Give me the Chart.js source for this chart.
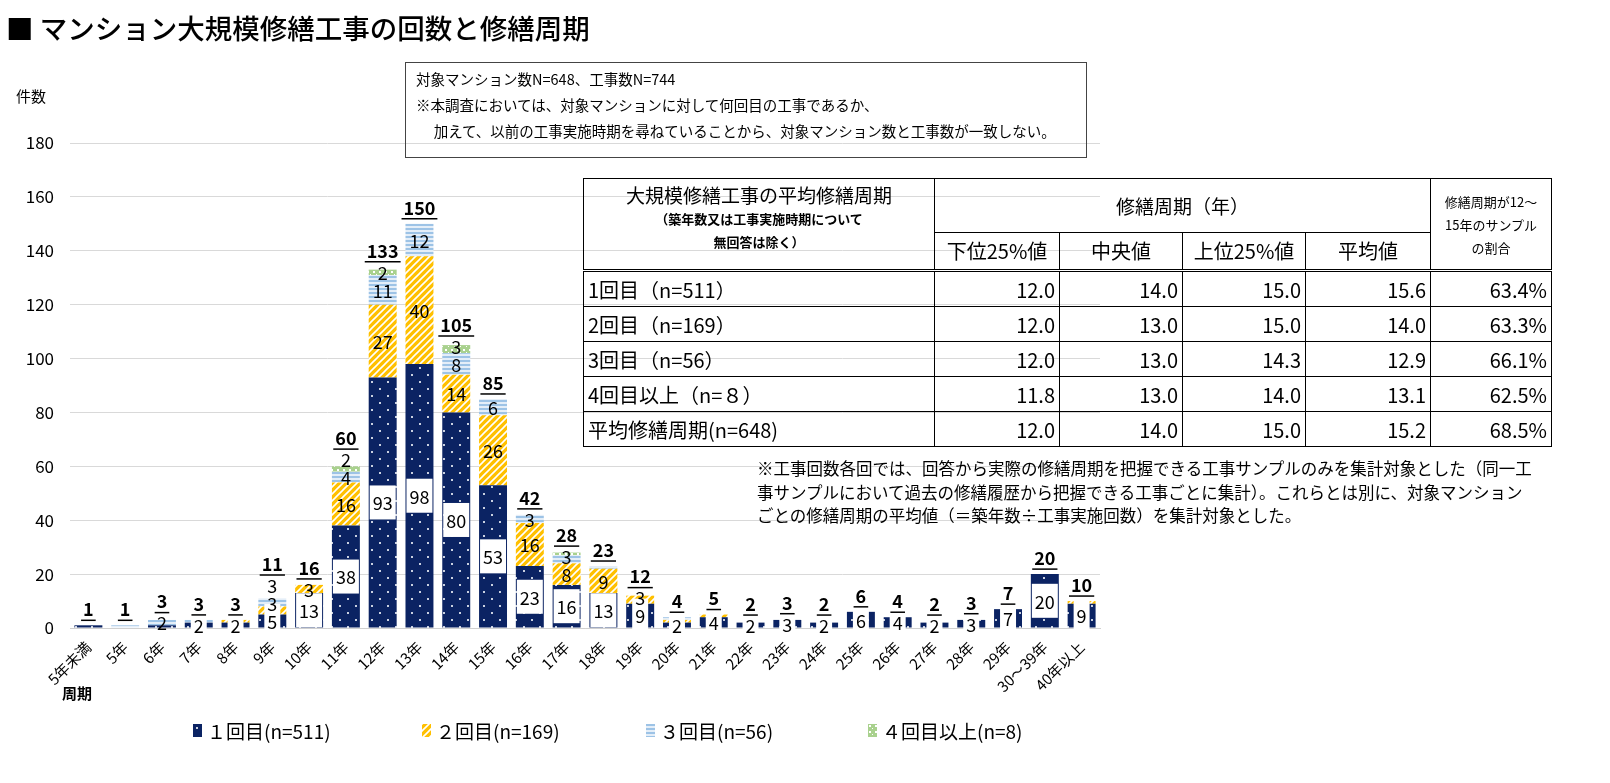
<!DOCTYPE html>
<html>
<head>
<meta charset="utf-8">
<script src="https://cdn.jsdelivr.net/npm/chart.js@4/dist/chart.umd.min.js"></script>
<style>
body { margin:0; background:#fff; font-family:"Noto Sans CJK JP", sans-serif; color:#000; }
#wrap { position:relative; width:1610px; height:783px; overflow:hidden; }
#c { position:absolute; left:0; top:0; }
.abs { position:absolute; white-space:nowrap; }
#title { left:6px; top:7px; font-size:27.5px; font-weight:500; }
#note { left:405px; top:62px; width:670px; height:91px; border:1px solid #444; padding-left:10px; font-size:14.5px; line-height:26px; padding-top:3px; }
#tbl { left:583px; top:178px; border-collapse:collapse; font-size:20px; }
#tbl td { border:1px solid #000; padding:0 4px; height:34px; }
#tbl .num { text-align:right; }
#tbl .hd td { text-align:center; }
#note2 { left:757px; top:457px; font-size:16.5px; line-height:23.5px; }
#legend { left:0; top:717px; font-size:19px; }
.lg { position:absolute; display:flex; align-items:center; }
.lg canvas { margin-right:5px; }
</style>
</head>
<body>
<div id="wrap">
<canvas id="c" width="1610" height="783"></canvas>
<div id="title" class="abs">■ マンション大規模修繕工事の回数と修繕周期</div>
<div id="note" class="abs"></div>
<div class="abs" style="left:16px;top:85px;font-size:15px;">件数</div>
<div class="abs" style="left:62px;top:682px;font-size:15px;font-weight:bold;">周期</div>
<table id="tbl" class="abs"></table>
<div id="note2" class="abs"></div>
<div id="legend" class="abs"></div>
</div>
<script>
// 修繕周期（x軸）
var categories = ['5年未満','5年','6年','7年','8年','9年','10年','11年','12年','13年','14年','15年','16年','17年','18年','19年','20年','21年','22年','23年','24年','25年','26年','27年','28年','29年','30～39年','40年以上'];
// 件数
var first  = [1,0,1,2,2,5,13,38,93,98,80,53,23,16,13,9,2,4,2,3,2,6,4,2,3,7,20,9];
var second = [0,0,0,0,1,3,3,16,27,40,14,26,16,8,9,3,1,1,0,0,0,0,0,0,0,0,0,1];
var third  = [0,1,2,1,0,3,0,4,11,12,8,6,3,3,1,0,1,0,0,0,0,0,0,0,0,0,0,0];
var fourth = [0,0,0,0,0,0,0,2,2,0,3,0,0,1,0,0,0,0,0,0,0,0,0,0,0,0,0,0];
var seriesNames = ['１回目(n=511)','２回目(n=169)','３回目(n=56)','４回目以上(n=8)'];
var yMax = 180, yStep = 20;

// 表
var rowNames = ['1回目（n=511）','2回目（n=169）','3回目（n=56）','4回目以上（n=８）','平均修繕周期(n=648)'];
var lower25 = ['12.0','12.0','12.0','11.8','12.0'];
var median  = ['14.0','13.0','13.0','13.0','14.0'];
var upper25 = ['15.0','15.0','14.3','14.0','15.0'];
var mean    = ['15.6','14.0','12.9','13.1','15.2'];
var share   = ['63.4%','63.3%','66.1%','62.5%','68.5%'];

var noteLines = ['対象マンション数N=648、工事数N=744',
  '※本調査においては、対象マンションに対して何回目の工事であるか、',
  '　 加えて、以前の工事実施時期を尋ねていることから、対象マンション数と工事数が一致しない。'];
var note2Lines = ['※工事回数各回では、回答から実際の修繕周期を把握できる工事サンプルのみを集計対象とした（同一工',
  '事サンプルにおいて過去の修繕履歴から把握できる工事ごとに集計）。これらとは別に、対象マンション',
  'ごとの修繕周期の平均値（＝築年数÷工事実施回数）を集計対象とした。'];

document.getElementById('note').innerHTML = noteLines.join('<br>');
document.getElementById('note2').innerHTML = note2Lines.join('<br>');

// table
var t = document.getElementById('tbl');
var h = '<tr class="hd"><td rowspan="2" style="width:342px;vertical-align:top;height:90px;line-height:24px;border-bottom:3px double #000">' +
  '<div style="font-size:19px;margin-top:4px">大規模修繕工事の平均修繕周期</div>' +
  '<div style="font-size:13px;font-weight:bold;line-height:23px">（築年数又は工事実施時期について<br>無回答は除く）</div></td>' +
  '<td colspan="4" style="height:52px;font-size:19px">修繕周期（年）</td>' +
  '<td rowspan="2" style="width:112px;font-size:13px;line-height:23px;border-bottom:3px double #000">修繕周期が12～<br>15年のサンプル<br>の割合</td></tr>' +
  '<tr class="hd">';
['下位25%値','中央値','上位25%値','平均値'].forEach(function(s, i){
  var w = [116,114,114,116][i];
  h += '<td style="width:' + w + 'px;height:36px;border-bottom:3px double #000">' + s + '</td>';
});
h += '</tr>';
for (var r = 0; r < rowNames.length; r++) {
  h += '<tr><td>' + rowNames[r] + '</td><td class="num">' + lower25[r] + '</td><td class="num">' + median[r] +
    '</td><td class="num">' + upper25[r] + '</td><td class="num">' + mean[r] + '</td><td class="num">' + share[r] + '</td></tr>';
}
t.innerHTML = h;

// patterns
function makePattern(kind) {
  var p = document.createElement('canvas');
  var g = p.getContext('2d');
  if (kind == 0) {
    p.width = 16; p.height = 14;
    g.fillStyle = '#0b2363'; g.fillRect(0,0,16,14);
    g.fillStyle = '#c9d0e0';
    g.fillRect(3,3,2,2); g.fillRect(11,10,2,2);
  } else if (kind == 1) {
    p.width = 7; p.height = 7;
    g.fillStyle = '#ffc000'; g.fillRect(0,0,7,7);
    g.strokeStyle = '#fff'; g.lineWidth = 1.6;
    g.beginPath();
    g.moveTo(-1,8); g.lineTo(8,-1);
    g.moveTo(-1,1); g.lineTo(1,-1);
    g.moveTo(6,8); g.lineTo(8,6);
    g.stroke();
  } else if (kind == 2) {
    p.width = 4; p.height = 4;
    g.fillStyle = '#e4eef8'; g.fillRect(0,0,4,4);
    g.fillStyle = '#9dc3e6'; g.fillRect(0,0,4,2);
  } else {
    p.width = 6; p.height = 6;
    g.fillStyle = '#a9d18e'; g.fillRect(0,0,6,6);
    g.fillStyle = '#ffffff';
    g.fillRect(1,1,2,2); g.fillRect(4,4,1,1);
  }
  return p;
}
var ctx = document.getElementById('c').getContext('2d');
var tiles = [0,1,2,3].map(makePattern);
var fills = tiles.map(function(tl){ return ctx.createPattern(tl, 'repeat'); });

// legend
var lgX = [193, 422, 646, 868];
var lg = document.getElementById('legend');
seriesNames.forEach(function(name, i){
  var d = document.createElement('div');
  d.className = 'lg';
  d.style.left = lgX[i] + 'px';
  var sw = document.createElement('canvas');
  sw.width = 9; sw.height = 13;
  var sg = sw.getContext('2d');
  sg.fillStyle = sg.createPattern(tiles[i], 'repeat');
  sg.fillRect(0,0,9,13);
  d.appendChild(sw);
  var sp = document.createElement('span');
  sp.textContent = name;
  d.appendChild(sp);
  lg.appendChild(d);
});

var segLabels = {
  id: 'segLabels',
  afterDatasetsDraw: function(chart) {
    var c = chart.ctx;
    c.save();
    c.textAlign = 'center';
    c.textBaseline = 'middle';
    for (var i = 0; i < categories.length; i++) {
      var prev = Infinity, topY = null, x = null;
      chart.data.datasets.forEach(function(ds, d){
        var v = ds.data[i];
        if (!v) return;
        var el = chart.getDatasetMeta(d).data[i];
        x = el.x;
        topY = topY === null ? el.y : Math.min(topY, el.y);
        if (v < 2) return;
        var y = Math.min((el.y + el.base) / 2, prev - 18);
        prev = y;
        c.font = '18px "Noto Sans CJK JP"';
        if (d == 0) {
          var w = c.measureText(String(v)).width + 6;
          c.fillStyle = '#fff';
          c.fillRect(x - w / 2, y - 17, w, 34);
        }
        c.fillStyle = '#000';
        c.fillText(String(v), x, y + 1);
      });
      if (x === null) continue;
      var total = first[i] + second[i] + third[i] + fourth[i];
      var ty = Math.min(topY - 16, prev - 21);
      c.font = 'bold 18px "Noto Sans CJK JP"';
      c.fillStyle = '#000';
      c.fillText(String(total), x, ty);
      var tw = c.measureText(String(total)).width + 4;
      c.strokeStyle = '#000';
      c.lineWidth = 1.5;
      c.beginPath();
      c.moveTo(x - tw / 2, ty + 11);
      c.lineTo(x + tw / 2, ty + 11);
      c.stroke();
    }
    c.restore();
  }
};

new Chart(ctx, {
  type: 'bar',
  data: {
    labels: categories,
    datasets: [
      { label: seriesNames[0], data: first, backgroundColor: fills[0] },
      { label: seriesNames[1], data: second, backgroundColor: fills[1] },
      { label: seriesNames[2], data: third, backgroundColor: fills[2] },
      { label: seriesNames[3], data: fourth, backgroundColor: fills[3] }
    ]
  },
  options: {
    responsive: false,
    animation: false,
    devicePixelRatio: 1,
    layout: { padding: { top: 143, bottom: 85, right: 510, left: 0 } },
    datasets: { bar: { barPercentage: 0.76, categoryPercentage: 1, borderWidth: 0 } },
    plugins: { legend: { display: false }, tooltip: { enabled: false } },
    scales: {
      x: {
        stacked: true,
        grid: { display: false },
        border: { color: '#d0d0d0' },
        ticks: { color: '#000', font: { size: 15, family: '"Noto Sans CJK JP"' }, maxRotation: 45, minRotation: 45, padding: 2, autoSkip: false },
        afterFit: function(s){ s.height = 70; }
      },
      y: {
        stacked: true,
        min: 0, max: yMax,
        grid: { color: '#d9d9d9', drawTicks: false },
        border: { display: false },
        ticks: { stepSize: yStep, color: '#000', font: { size: 17, family: '"Noto Sans CJK JP"' }, padding: 16 },
        afterFit: function(s){ s.width = 70; }
      }
    }
  },
  plugins: [segLabels]
});
</script>
</body>
</html>
